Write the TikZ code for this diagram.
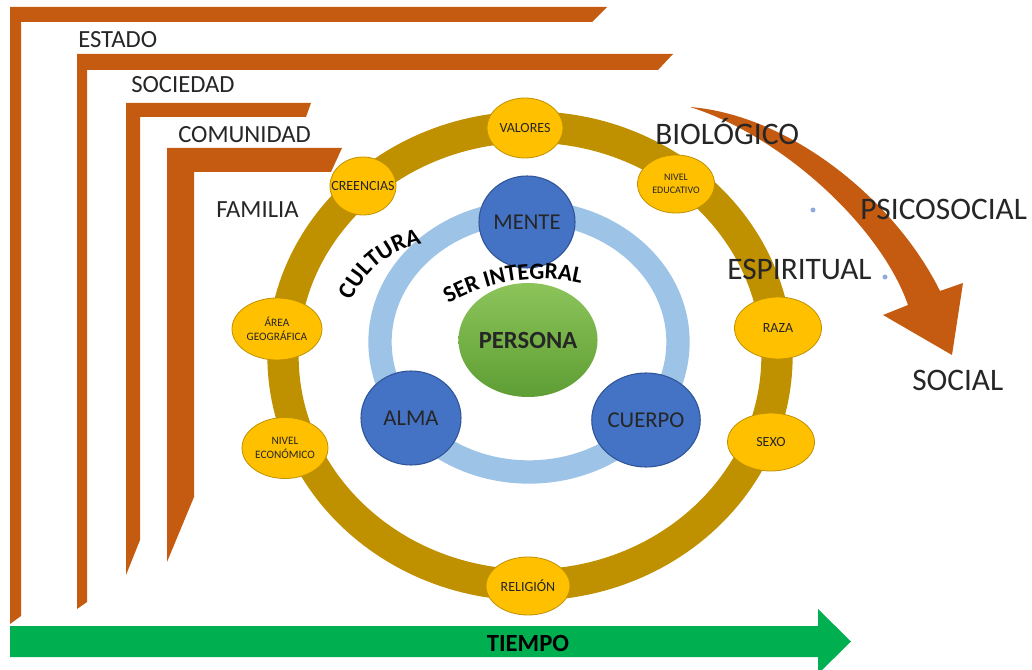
\documentclass[tikz,border=0pt]{standalone}
\usepackage{fontspec}
\setmainfont{Carlito}
\usetikzlibrary{shapes.geometric,decorations.text}
\definecolor{orng}{HTML}{C55A11}
\definecolor{gold}{HTML}{BF9000}
\definecolor{amber}{HTML}{FFC000}
\definecolor{lblue}{HTML}{9DC3E6}
\definecolor{dblue}{HTML}{4472C4}
\definecolor{dbord}{HTML}{2F5597}
\definecolor{grn}{HTML}{00B050}
\definecolor{txt}{HTML}{262626}
\definecolor{dotc}{HTML}{8FAADC}
\definecolor{pertop}{HTML}{8CC45A}
\definecolor{perbot}{HTML}{5E9E34}
\begin{document}
\begin{tikzpicture}[x=0.75pt,y=0.75pt,
  band/.style={fill=orng},
  lbl/.style={anchor=base west, inner sep=0pt, text=txt, font=\fontsize{18.5}{20}\selectfont},
  rlbl/.style={anchor=base west, inner sep=0pt, text=txt, font=\fontsize{23.5}{26}\selectfont},
  factor/.style={ellipse, fill=amber, draw=gold, line width=0.6pt, inner sep=0pt},
  ftxt/.style={text=txt, align=center, inner sep=0pt, font=\fontsize{10.5}{12}\selectfont},
  ftxtsmall/.style={text=txt, align=center, inner sep=0pt, font=\fontsize{8.5}{10.5}\selectfont},
  dimn/.style={ellipse, fill=dblue, draw=dbord, line width=0.8pt, inner sep=0pt, text=txt, font=\fontsize{17}{20}\selectfont}
]
\useasboundingbox (0,0) rectangle (1032,-670);

% nested L bands
\fill[band] (10,-624) -- (10,-7) -- (607,-7) -- (592,-22) -- (21,-22) -- (21,-616) -- cycle;
\fill[band] (77,-609) -- (77,-54) -- (673,-54) -- (658,-70) -- (87,-70) -- (87,-602) -- cycle;
\fill[band] (126,-575) -- (126,-103) -- (311,-103) -- (306,-117) -- (140,-117) -- (140,-540) -- cycle;
\fill[band] (167,-562) -- (167,-148) -- (342,-148) -- (331,-172) -- (194,-172) -- (194,-497) -- cycle;

\node[lbl] (estado) at (78,-48) {ESTADO};
\node[lbl] (sociedad) at (131,-93) {SOCIEDAD};
\node[lbl] (comunidad) at (178,-143) {COMUNIDAD};
\node[lbl] (familia) at (216,-218) {FAMILIA};

% time arrow
\fill[grn] (10,-626) -- (818,-626) -- (818,-609) -- (851,-641.5) -- (818,-674) -- (818,-657) -- (10,-657) -- cycle;
\node[text=black, font=\bfseries\fontsize{18.5}{20}\selectfont] (tiempo) at (528,-643) {TIEMPO};

% culture ring
\draw[gold, line width=23.5pt] (530,-356) ellipse [x radius=247, y radius=229];

% inner light blue ring
\draw[lblue, line width=17.5pt] (529,-342) ellipse [x radius=149, y radius=130];

% factors
\node[factor, minimum width=57pt, minimum height=45pt, label={[ftxt]center:VALORES}] (valores) at (525,-128) {};
\node[factor, minimum width=49.5pt, minimum height=43.5pt, label={[ftxt]center:CREENCIAS}] (creencias) at (363,-186) {};
\node[factor, minimum width=57.75pt, minimum height=43.5pt, label={[ftxtsmall, font=\fontsize{7.5}{9.5}\selectfont]center:NIVEL\\EDUCATIVO}] (educ) at (676,-184) {};
\node[factor, minimum width=67.5pt, minimum height=46.5pt, label={[ftxtsmall]center:ÁREA\\GEOGRÁFICA}] (area) at (277,-329) {};
\node[factor, minimum width=65.25pt, minimum height=46.5pt, label={[ftxt]center:RAZA}] (raza) at (778,-328) {};
\node[factor, minimum width=64.5pt, minimum height=45.75pt, label={[ftxtsmall]center:NIVEL\\ECONÓMICO}] (econ) at (285,-448) {};
\node[factor, minimum width=65.25pt, minimum height=43.5pt, label={[ftxt]center:SEXO}] (sexo) at (771,-442) {};
\node[factor, minimum width=63pt, minimum height=43.5pt, label={[ftxt]center:RELIGIÓN}] (religion) at (528,-586) {};

% being
\node[dimn, minimum width=72pt, minimum height=69pt] (mente) at (527,-222) {MENTE};
\node[dimn, minimum width=75pt, minimum height=70.5pt] (alma) at (411,-418) {ALMA};
\node[dimn, minimum width=75pt, minimum height=70.5pt] (cuerpo) at (646,-420) {CUERPO};
\node[ellipse, minimum width=100.5pt, minimum height=85.5pt, inner sep=0pt, top color=pertop, bottom color=perbot,
      text=txt, font=\bfseries\fontsize{18.5}{20}\selectfont] (persona) at (528,-340) {PERSONA};

% curved texts
\path[decorate, decoration={text along path, text align=center,
      text={|\bfseries\fontsize{18}{18}\selectfont\color{black}|CULTURA}}]
  (440,-338) ++(162:96) arc[start angle=162, end angle=96, radius=96];
\path[decorate, decoration={text along path, text align=center,
      text={|\bfseries\fontsize{17.5}{18}\selectfont\color{black}|SER INTEGRAL}}]
  (540,-462) ++(125:183) arc[start angle=125, end angle=72, radius=183];

% development arrow
\fill[orng] (690,-107) .. controls (790,-115) and (895,-200) .. (940,-291) -- (963,-283) -- (952,-355)
  -- (883,-315) -- (908,-305) .. controls (880,-225) and (780,-135) .. (690,-107) -- cycle;

\fill[dotc] (813,-210) circle[radius=2.5];
\fill[dotc] (885,-277) circle[radius=2.5];

\node[rlbl] (bio) at (655,-145) {BIOLÓGICO};
\node[rlbl] (psico) at (860,-220) {PSICOSOCIAL};
\node[rlbl] (espi) at (727,-280) {ESPIRITUAL};
\node[rlbl] (social) at (912,-390) {SOCIAL};
\end{tikzpicture}
\end{document}
